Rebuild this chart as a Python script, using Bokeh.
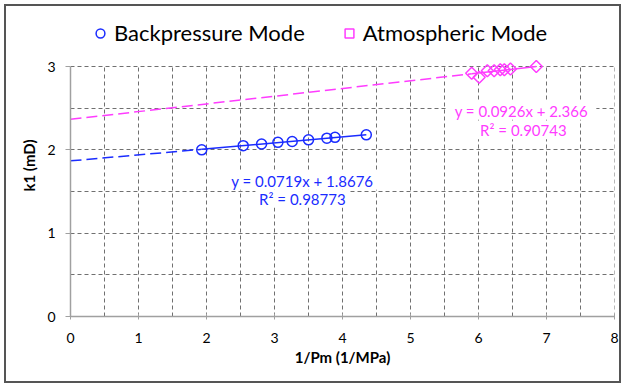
import math
from bokeh.plotting import figure
from bokeh.models import Range1d, FixedTicker, Legend, LegendItem
from bokeh.core.properties import value
from bokeh.embed import file_html
from bokeh.resources import INLINE

# ---- data ----
bp_x = [1.93, 2.54, 2.81, 3.05, 3.26, 3.50, 3.77, 3.89, 4.35]
bp_y = [2.00, 2.05, 2.07, 2.09, 2.10, 2.12, 2.14, 2.15, 2.18]
at_x = [5.90, 6.01, 6.13, 6.23, 6.32, 6.38, 6.47, 6.85]
at_y = [2.92, 2.87, 2.95, 2.95, 2.96, 2.96, 2.97, 3.00]
bp_slope, bp_icpt, bp_r2 = 0.0719, 1.8676, "0.98773"
at_slope, at_icpt, at_r2 = 0.0926, 2.366, "0.90743"
series_names = ["Backpressure Mode", "Atmospheric Mode"]
x_ticks = [0, 1, 2, 3, 4, 5, 6, 7, 8]
y_ticks = [0, 1, 2, 3]
x_grid = [0.5, 1, 1.5, 2, 2.5, 3, 3.5, 4, 4.5, 5, 5.5, 6, 6.5, 7, 7.5, 8]
y_grid = [0.5, 1, 1.5, 2, 2.5, 3]
Y_MAX = 3

BLUE = "#1a2cff"
PINK = "#ff3cff"
FONT = "Lato"
GRID = "#707070"

# frame: 83.33 px per y unit; extra room above y=3 holds the legend
p = figure(frame_width=544, frame_height=302, output_backend="svg", toolbar_location=None,
           x_range=Range1d(0, 8), y_range=Range1d(0, 3.624),
           min_border_left=64, min_border_top=8, min_border_bottom=65, min_border_right=5)
p.outline_line_color = None
p.background_fill_color = "white"
p.border_fill_color = "white"
p.styles = {"border": "2px solid #555555", "margin": "4px"}

p.xgrid.visible = False
p.ygrid.ticker = FixedTicker(ticks=y_grid)
p.ygrid.grid_line_color = GRID
p.ygrid.grid_line_dash = "4 3"
p.ygrid.grid_line_width = 1
p.segment(x0=x_grid, y0=[0] * len(x_grid), x1=x_grid, y1=[Y_MAX] * len(x_grid),
          line_color=GRID, line_dash="4 3", line_width=1, level="underlay")

for ax in (p.xaxis, p.yaxis):
    ax.axis_line_color = "#a0a0a0"
    ax.axis_line_width = 1.5
    ax.major_tick_line_color = "#a0a0a0"
    ax.minor_tick_line_color = None
    ax.major_label_text_font = FONT
    ax.major_label_text_font_size = "14px"
    ax.major_label_text_color = "black"
    ax.axis_label_text_font = FONT
    ax.axis_label_text_font_size = "15px"
    ax.axis_label_text_font_style = "bold"
    ax.axis_label_text_color = "black"

p.xaxis.ticker = FixedTicker(ticks=x_ticks)
p.yaxis.ticker = FixedTicker(ticks=y_ticks)
p.yaxis.bounds = (0, Y_MAX)
p.xaxis.major_tick_in = 3
p.xaxis.major_tick_out = 3
p.yaxis.major_tick_in = 0
p.yaxis.major_tick_out = 5
p.xaxis.axis_label = "1/Pm (1/MPa)"
p.yaxis.axis_label = "k1 (mD)"
p.xaxis.major_label_standoff = 13
p.yaxis.major_label_standoff = 10
p.xaxis.axis_label_standoff = 2
p.yaxis.axis_label_standoff = 6

# equation label boxes (white background hides the grid behind the text)
eq_x = [3.41, 3.41, 6.63, 6.66]
eq_y = [1.63, 1.415, 2.47, 2.235]
eq_text = [f"y = {bp_slope}x + {bp_icpt}", f"R² = {bp_r2}",
           f"y = {at_slope}x + {at_icpt}", f"R² = {at_r2}"]
eq_color = [BLUE, BLUE, PINK, PINK]
box_w = [150, 94, 150, 94]
p.rect(x=eq_x, y=eq_y, width=box_w, height=[18] * 4, width_units="screen", height_units="screen",
       fill_color="white", line_color=None)

# trend lines
bx0, bx1 = min(bp_x), max(bp_x)
p.line([0, bx0], [bp_icpt, bp_icpt + bp_slope * bx0], line_color=BLUE, line_width=1.5, line_dash="11 5")
p.line([bx0, bx1], [bp_icpt + bp_slope * bx0, bp_icpt + bp_slope * bx1], line_color=BLUE, line_width=1.5)
ax0, ax1 = min(at_x), max(at_x)
p.line([0, ax0], [at_icpt, at_icpt + at_slope * ax0], line_color=PINK, line_width=1.5, line_dash="11 5")
p.line([ax0, ax1], [at_icpt + at_slope * ax0, at_icpt + at_slope * ax1], line_color=PINK, line_width=1.5)

r_bp = p.scatter(bp_x, bp_y, marker="circle", size=10, fill_color=None, line_color=BLUE, line_width=1.5)
r_at = p.scatter(at_x, at_y, marker="square", angle=math.pi / 4, size=8.5,
                 fill_color=None, line_color=PINK, line_width=1.5)

p.text(x=eq_x, y=eq_y, text=eq_text, text_color=eq_color, text_font=value(FONT),
       text_font_size="15px", text_align="center", text_baseline="middle")

legend = Legend(items=[LegendItem(label=series_names[0], renderers=[r_bp]),
                       LegendItem(label=series_names[1], renderers=[r_at])],
                orientation="horizontal", location=(16, 270),
                border_line_alpha=0, background_fill_alpha=0,
                label_text_font=FONT, label_text_font_size="22px", label_text_color="black",
                glyph_width=28, glyph_height=22, label_standoff=0, spacing=30,
                padding=0, margin=0)
p.add_layout(legend, "center")

open("out.html", "w").write(file_html(p, INLINE))
